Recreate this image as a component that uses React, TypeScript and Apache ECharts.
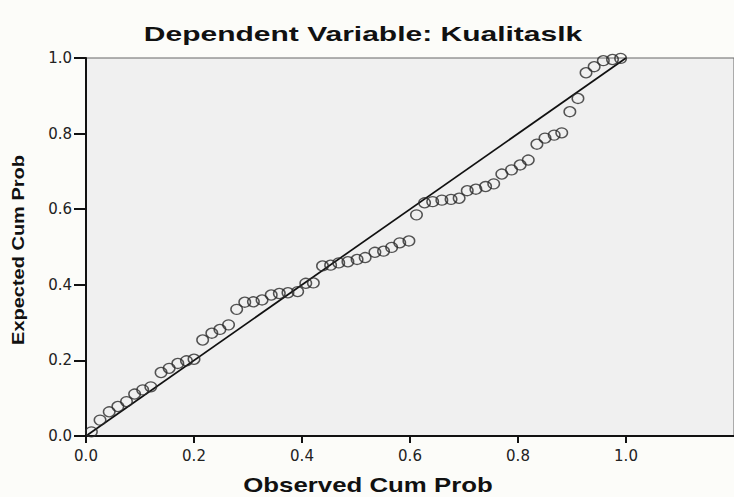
import React, { useEffect, useRef } from 'react';
import * as echarts from 'echarts';

const chartTitle = 'Dependent Variable: Kualitaslk';
const xAxisName = 'Observed Cum Prob';
const yAxisName = 'Expected Cum Prob';

// Observed cumulative probability (x)
const observed = [
  0.010, 0.026, 0.043, 0.059, 0.075, 0.090, 0.105, 0.120, 0.139, 0.154,
  0.170, 0.186, 0.200, 0.216, 0.233, 0.248, 0.264, 0.279, 0.294, 0.310,
  0.326, 0.343, 0.358, 0.374, 0.392, 0.407, 0.421, 0.438, 0.453, 0.468,
  0.485, 0.502, 0.517, 0.535, 0.551, 0.566, 0.581, 0.598, 0.612, 0.627,
  0.642, 0.659, 0.676, 0.691, 0.706, 0.722, 0.740, 0.755, 0.770, 0.788,
  0.804, 0.819, 0.835, 0.850, 0.867, 0.881, 0.896, 0.911, 0.926, 0.941,
  0.958, 0.975, 0.990,
];

// Expected cumulative probability (y)
const expected = [
  0.011, 0.042, 0.064, 0.078, 0.091, 0.111, 0.122, 0.130, 0.168, 0.179,
  0.192, 0.199, 0.203, 0.254, 0.272, 0.282, 0.294, 0.335, 0.354, 0.355,
  0.360, 0.373, 0.377, 0.379, 0.382, 0.404, 0.405, 0.450, 0.452, 0.458,
  0.461, 0.467, 0.472, 0.486, 0.489, 0.499, 0.511, 0.516, 0.585, 0.617,
  0.620, 0.624, 0.626, 0.629, 0.649, 0.653, 0.660, 0.667, 0.693, 0.704,
  0.717, 0.730, 0.772, 0.788, 0.796, 0.802, 0.858, 0.893, 0.961, 0.977,
  0.993, 0.996, 0.999,
];

// Reference (diagonal) line endpoints
const refX = [0, 1];
const refY = [0, 1];

export default function App() {
  const ref = useRef<HTMLDivElement>(null);

  useEffect(() => {
    const chart = echarts.init(ref.current as HTMLDivElement, null, { renderer: 'svg' });
    const points = observed.map((x, i) => [x, expected[i]]);
    const diag = refX.map((x, i) => [x, refY[i]]);
    const labelFont = { fontFamily: 'DejaVu Sans', fontSize: 15, color: '#222' };

    chart.setOption({
      animation: false,
      backgroundColor: '#fcfcf9',
      grid: {
        left: 86,
        top: 58,
        width: 655,
        height: 378,
        show: true,
        backgroundColor: '#f0f0f0',
        borderColor: '#666',
        borderWidth: 1,
      },
      xAxis: {
        type: 'value',
        min: 0,
        max: 1.2,
        interval: 0.2,
        axisLine: { show: true, onZero: false, lineStyle: { color: '#111', width: 2 } },
        axisTick: { show: true, length: 7, lineStyle: { color: '#111', width: 2 } },
        axisLabel: {
          margin: 12,
          showMaxLabel: false,
          formatter: (v: number) => v.toFixed(1),
          ...labelFont,
        },
        splitLine: { show: false },
      },
      yAxis: {
        type: 'value',
        min: 0,
        max: 1,
        interval: 0.2,
        axisLine: { show: true, onZero: false, lineStyle: { color: '#111', width: 2 } },
        axisTick: { show: true, length: 12, lineStyle: { color: '#111', width: 2 } },
        axisLabel: {
          margin: 14,
          formatter: (v: number) => v.toFixed(1),
          ...labelFont,
        },
        splitLine: { show: false },
      },
      series: [
        {
          type: 'line',
          data: diag,
          symbol: 'none',
          silent: true,
          lineStyle: { color: '#111', width: 1.7 },
          z: 2,
        },
        {
          type: 'scatter',
          data: points,
          symbol: 'circle',
          symbolSize: [11.5, 10],
          itemStyle: { color: 'rgba(0,0,0,0)', borderColor: '#2a2a2a', borderWidth: 1.4 },
          z: 3,
        },
      ],
      graphic: [
        {
          type: 'text',
          x: 363,
          y: 34,
          scaleX: 1.5,
          style: {
            text: chartTitle,
            fontFamily: 'Liberation Sans',
            fontWeight: 'bold',
            fontSize: 20,
            fill: '#111',
            align: 'center',
            verticalAlign: 'middle',
            textAlign: 'center',
            textVerticalAlign: 'middle',
          },
        },
        {
          type: 'text',
          x: 368,
          y: 485,
          scaleX: 1.29,
          style: {
            text: xAxisName,
            fontFamily: 'Liberation Sans',
            fontWeight: 'bold',
            fontSize: 20,
            fill: '#111',
            align: 'center',
            verticalAlign: 'middle',
            textAlign: 'center',
            textVerticalAlign: 'middle',
          },
        },
        {
          type: 'text',
          x: 18,
          y: 250,
          rotation: Math.PI / 2,
          scaleY: 0.85,
          style: {
            text: yAxisName,
            fontFamily: 'Liberation Sans',
            fontWeight: 'bold',
            fontSize: 20,
            fill: '#111',
            align: 'center',
            verticalAlign: 'middle',
            textAlign: 'center',
            textVerticalAlign: 'middle',
          },
        },
      ],
    });
    return () => chart.dispose();
  }, []);

  return (
    <div
      ref={ref}
      style={{ position: 'fixed', left: 0, top: 0, width: 734, height: 497 }}
    />
  );
}
